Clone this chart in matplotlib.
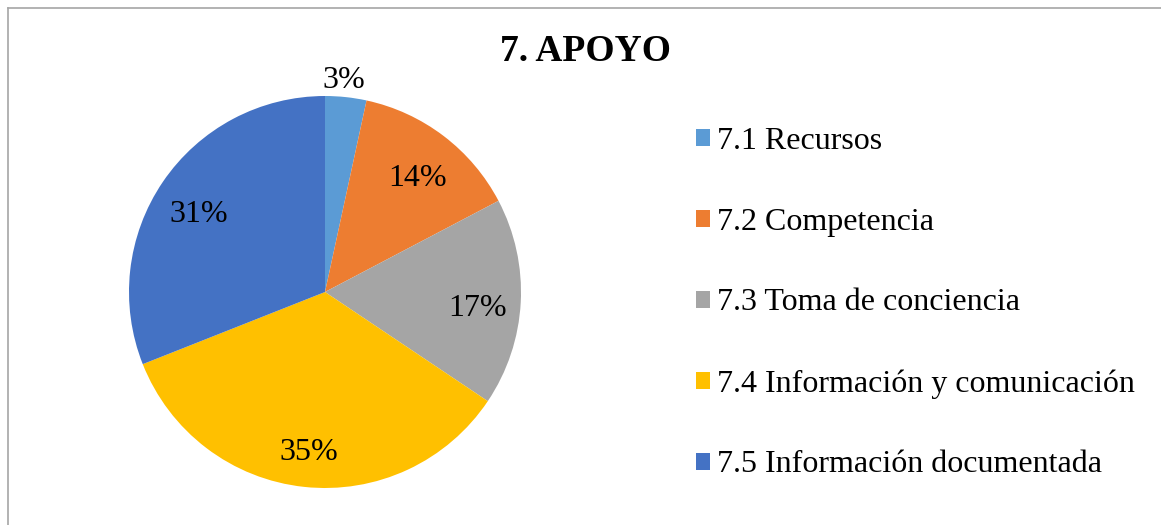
import matplotlib
matplotlib.use("Agg")
import matplotlib.pyplot as plt
from matplotlib.lines import Line2D
import numpy as np

categories = ["7.1 Recursos", "7.2 Competencia", "7.3 Toma de conciencia",
              "7.4 Información y comunicación", "7.5 Información documentada"]
values = [3.4, 13.9, 17.1, 34.6, 31.0]
colors = ["#5B9BD5", "#ED7D31", "#A5A5A5", "#FFC000", "#4472C4"]
title = "7. APOYO"

W, H = 1161, 525
fig = plt.figure(figsize=(W / 100, H / 100), dpi=100)
plt.rcParams['font.family'] = ['Liberation Serif', 'DejaVu Serif']

cx, cy, r = 325, 292, 196
ax = fig.add_axes([(cx - r) / W, (H - cy - r) / H, 2 * r / W, 2 * r / H])
wedges, texts, autotexts = ax.pie(values, colors=colors, startangle=90, counterclock=False,
                                  autopct='%1.0f%%', pctdistance=0.78,
                                  textprops=dict(fontsize=23, color='black'),
                                  wedgeprops=dict(linewidth=0))
ax.set_xlim(-1, 1)
ax.set_ylim(-1, 1)
px = 1.0 / r  # one pixel in data units
for t in autotexts:
    x, y = t.get_position()
    t.set_position((x, y - 8 * px))
# move the small slice's label outside
w0 = wedges[0]
mid = np.deg2rad((w0.theta1 + w0.theta2) / 2)
autotexts[0].set_position((1.1 * np.cos(mid) - 4 * px, 1.1 * np.sin(mid) - 3 * px))
autotexts[0].set_clip_on(False)

fig.text(585 / W, 1 - 51 / H, title, ha='center', va='center', fontsize=27, fontweight='bold')

leg = fig.legend(wedges, categories, loc='upper left', bbox_to_anchor=(696 / W, 1 - 127 / H),
                 frameon=False, fontsize=23, handlelength=0.45, handleheight=0.45,
                 handletextpad=0.2, labelspacing=1.62, borderpad=0, borderaxespad=0)

# border (left & top)
fig.add_artist(Line2D([7.5 / W, 7.5 / W], [0, 1 - 7.5 / H], color='#A6A6A6', lw=1.2, transform=fig.transFigure))
fig.add_artist(Line2D([7.5 / W, 1], [1 - 7.5 / H, 1 - 7.5 / H], color='#A6A6A6', lw=1.2, transform=fig.transFigure))

fig.savefig("out.png", dpi=100)
